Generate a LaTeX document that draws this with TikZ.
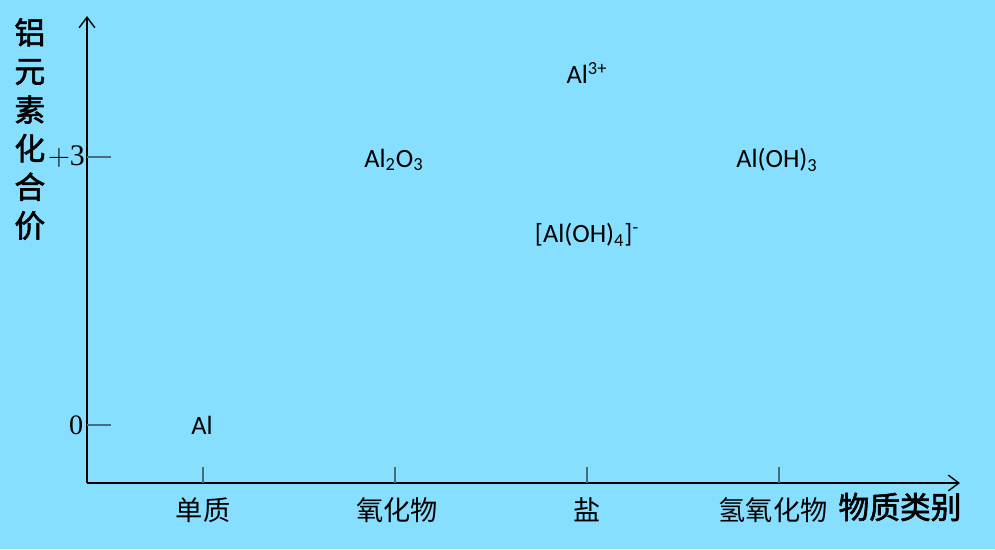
\documentclass[tikz,border=0pt]{standalone}
\usepackage{fontspec}
\setmainfont{Liberation Serif}
\setsansfont{Carlito}
\newfontfamily\cjk{Noto Sans CJK SC}
\newfontfamily\cjkbold[FakeBold=2]{Noto Sans CJK SC}
\usetikzlibrary{arrows.meta}
\definecolor{bgblue}{RGB}{135,223,255}
\definecolor{tickgray}{RGB}{70,110,125}

\begin{document}
\begin{tikzpicture}[x=0.02cm,y=-0.02cm,>={Straight Barb[length=6pt,width=9pt]},
  formula/.style={font=\sffamily\fontsize{15}{17}\selectfont},
  cat/.style={font=\cjk\fontsize{15.5}{17}\selectfont},
  axislabel/.style={font=\cjkbold\fontsize{17.5}{20}\selectfont}]
\fill[bgblue] (0,0) rectangle (995,549);
\useasboundingbox (0,0) rectangle (995,549);
\coordinate (O) at (87,483);
\coordinate (ytop) at (87,16);
\coordinate (xend) at (960,483);
\draw[->,thick] (O) -- (ytop);
\draw[->,thick] (O) -- (xend);
% ticks on the valence axis
\draw[tickgray,semithick] (87,157) -- (111,157);
\draw[tickgray,semithick] (87,425) -- (111,425);
\node[font=\fontsize{17}{18}\selectfont,anchor=east,inner sep=1pt] (p3) at (87,157) {$+$3};
\node[font=\fontsize{16}{18}\selectfont,anchor=east,inner sep=2pt] (zero) at (87,425) {0};
% ticks on the class axis
\foreach \x in {203,395,587,779}
  \draw[tickgray,semithick] (\x,467) -- (\x,483);
\node[cat] (simple) at (203,510) {单质};
\node[cat] (oxide) at (397,510) {氧化物};
\node[cat] (salt) at (587,510) {盐};
\node[cat] (hydroxide) at (773,510) {氢氧化物};
\node[axislabel] (xlabel) at (900,507) {物质类别};
\node[axislabel,align=center,text width=1.2em] (ylabel) at (25,129)
  {铝\\[2pt]元\\[2pt]素\\[2pt]化\\[2pt]合\\[2pt]价};
% species
\node[formula] (al) at (202,425) {Al};
\node[formula] (al2o3) at (394,160) {Al\textsubscript{2}O\textsubscript{3}};
\node[formula] (al3) at (587,73) {Al\textsuperscript{3+}};
\node[formula] (aloh4) at (587,235) {[Al(OH)\textsubscript{4}]\textsuperscript{-}};
\node[formula] (aloh3) at (777,160) {Al(OH)\textsubscript{3}};
\end{tikzpicture}
\end{document}
